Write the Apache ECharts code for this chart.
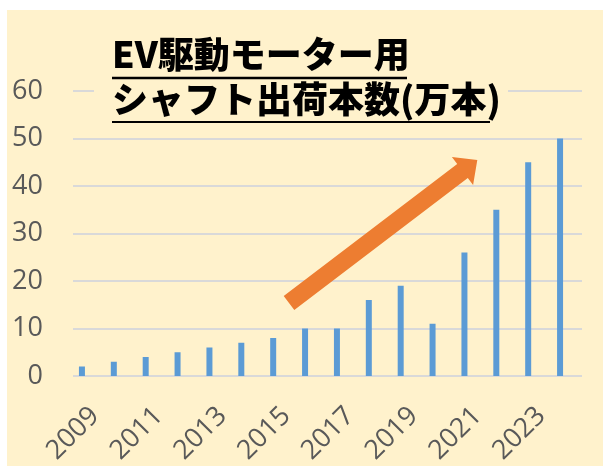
<!DOCTYPE html>
<html><head><meta charset="utf-8">
<script src="https://cdn.jsdelivr.net/npm/echarts@6/dist/echarts.min.js"></script>
<style>
html,body{margin:0;padding:0;background:#fff;}
#bg{position:absolute;left:7px;top:10px;width:596px;height:456px;background:#FFF2CC;}
#c{position:absolute;left:0;top:0;width:603px;height:467px;}
</style></head>
<body><div id="bg"></div><div id="c"></div>
<script>
const years = ['2009','2010','2011','2012','2013','2014','2015','2016','2017','2018','2019','2020','2021','2022','2023','2024'];
const shipments = [2,3,4,5,6,7,8,10,10,16,19,11,26,35,45,50];
const yMin = 0, yMax = 60, yStep = 10;
const titleLine1 = 'EV駆動モーター用';
const titleLine2 = 'シャフト出荷本数(万本)';

const labelFont = 'Open Sans';
const labelColor = '#595959';
const chart = echarts.init(document.getElementById('c'), null, {renderer:'canvas'});

const arrowPts = [[283.7,296.1],[457.2,164.1],[451.9,157.1],[477.3,160],[473.1,184.9],[467.8,177.9],[294.3,309.9]];

chart.setOption({
  backgroundColor: 'transparent',
  animation: false,
  grid: [
    {left: 66, right: 27, top: 91, bottom: 91},
    {left: 73, right: 21, top: 91, bottom: 91},
    {left: 79, right: 14, top: 91, bottom: 91}
  ],
  xAxis: [
    {gridIndex:0, type:'category', data: years, axisLine:{show:false}, axisTick:{show:false}, axisLabel:{show:false}},
    {gridIndex:1, type:'category', data: years, axisLine:{show:false}, axisTick:{show:false}, axisLabel:{show:false}},
    {gridIndex:2, type:'category', data: years, axisLine:{show:false}, axisTick:{show:false},
     axisLabel:{show:true, interval:1, rotate:45, margin:44, fontSize:27, fontFamily:labelFont, color:labelColor}}
  ],
  yAxis: [
    {gridIndex:0, type:'value', min:yMin, max:yMax, interval:yStep, show:false, splitLine:{show:false}},
    {gridIndex:1, type:'value', min:yMin, max:yMax, interval:yStep,
     axisLine:{show:false}, axisTick:{show:false},
     axisLabel:{margin:30, fontSize:27, fontFamily:labelFont, color:labelColor},
     splitLine:{show:true, lineStyle:{color:'#D9D9D9', width:2}}},
    {gridIndex:2, type:'value', min:yMin, max:yMax, interval:yStep, show:false, splitLine:{show:false}}
  ],
  series: [{
    type:'bar', xAxisIndex:0, yAxisIndex:0, data: shipments,
    barWidth: 6, itemStyle:{color:'#5B9BD5'}, z: 5
  }],
  graphic: [
    {type:'rect', z:100, shape:{x:94, y:24, width:414, height:104}, style:{fill:'#FFF2CC'}},
    {type:'text', z:101, left:112, top:36, style:{text:titleLine1, font:'900 36px "Noto Sans CJK JP"', fill:'#000'}},
    {type:'text', z:101, left:112, top:81, style:{text:titleLine2, font:'900 36px "Noto Sans CJK JP"', fill:'#000'}},
    {type:'line', z:101, shape:{x1:112, y1:78, x2:407, y2:78}, style:{stroke:'#000', lineWidth:2.5}},
    {type:'line', z:101, shape:{x1:112, y1:122, x2:490, y2:122}, style:{stroke:'#000', lineWidth:2}},
    {type:'polygon', z:102, shape:{points: arrowPts}, style:{fill:'#ED7D31'}}
  ]
});
</script></body></html>
